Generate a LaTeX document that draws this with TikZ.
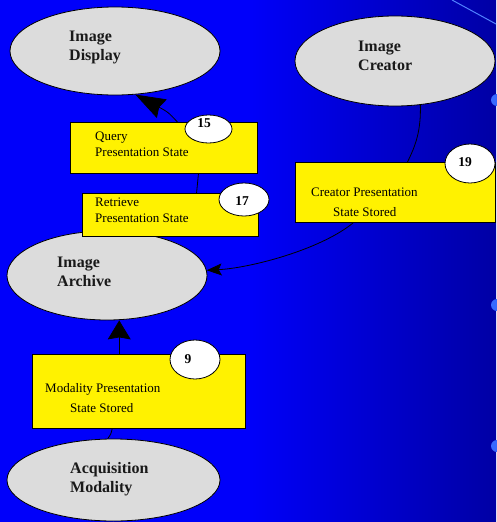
\documentclass[tikz,border=0pt]{standalone}
\usepackage{fontspec}
\setmainfont{Liberation Serif}
\usetikzlibrary{shapes.geometric,arrows.meta,calc}
\definecolor{bgA}{RGB}{0,0,250}
\definecolor{bgB}{RGB}{0,0,165}
\definecolor{ellgray}{RGB}{220,220,220}
\definecolor{dotblue}{RGB}{55,105,255}
\definecolor{lineblue}{RGB}{80,130,255}
\tikzset{
 ell/.style={ellipse, draw=black, line width=0.8pt, fill=ellgray, inner sep=0pt},
 ybox/.style={rectangle, draw=black, line width=0.8pt, fill=yellow, inner sep=0pt, anchor=north west},
 badge/.style={ellipse, draw=black, line width=0.8pt, fill=white, inner sep=0pt},
 etxt/.style={anchor=base west, font=\fontsize{16}{19}\selectfont\bfseries, inner sep=0pt, text=black!90},
 btxt/.style={anchor=base west, font=\fontsize{13}{16}\selectfont, inner sep=0pt},
 ntxt/.style={font=\fontsize{13.5}{15}\selectfont\bfseries, inner sep=0pt},
 conn/.style={draw=black, line width=0.8pt},
}
\begin{document}
\begin{tikzpicture}[x=1pt,y=-1pt]
\useasboundingbox (0,0) rectangle (496,522);
\fill[left color=bgA, right color=bgB, middle color=bgA] (0,0) rectangle (496,522);
\draw[lineblue, line width=1pt] (452,0) -- (496,24);
\foreach \yy in {100,305,446} \fill[dotblue] (497,\yy) circle (6);

% ellipses
\node[ell, minimum width=210, minimum height=88] (disp) at (115,51) {};
\node[ell, minimum width=200, minimum height=90] (crea) at (395,61) {};
\node[ell, minimum width=200, minimum height=89] (arch) at (107,275.5) {};
\node[ell, minimum width=213, minimum height=82] (acq) at (113.5,480) {};

\node[etxt] (disp1) at (69,41) {Image};
\node[etxt] (disp2) at (69,60) {Display};
\node[etxt] (crea1) at (358,51) {Image};
\node[etxt] (crea2) at (358,70) {Creator};
\node[etxt] (arch1) at (57,267.5) {Image};
\node[etxt] (arch2) at (57,286) {Archive};
\node[etxt] (acq1) at (70,473) {Acquisition};
\node[etxt] (acq2) at (70,492) {Modality};

% boxes
\node[ybox, minimum width=187, minimum height=51] (qb) at (70,122) {};
\node[ybox, minimum width=176, minimum height=43] (rb) at (82,193) {};
\node[ybox, minimum width=200, minimum height=60] (cb) at (295,162) {};
\node[ybox, minimum width=213, minimum height=74] (mb) at (32,354) {};

\node[btxt] (qt1) at (95,140) {Query};
\node[btxt] (qt2) at (95,156) {Presentation State};
\node[btxt] (rt1) at (95,206) {Retrieve};
\node[btxt] (rt2) at (95,222) {Presentation State};
\node[btxt] (ct1) at (311,196) {Creator Presentation};
\node[btxt] (ct2) at (333,216) {State Stored};
\node[btxt] (mt1) at (45,392) {Modality Presentation};
\node[btxt] (mt2) at (70,412) {State Stored};

% badges
\node[badge, minimum width=47, minimum height=28] (b15) at (208.5,129) {};
\node[badge, minimum width=50, minimum height=33] (b17) at (244,199.5) {};
\node[badge, minimum width=50, minimum height=39] (b19) at (470,163.5) {};
\node[badge, minimum width=50, minimum height=39] (b9) at (195,359.5) {};
\node[ntxt] (n15) at (204,123) {15};
\node[ntxt] (n17) at (242,201.5) {17};
\node[ntxt] (n19) at (465,162.5) {19};
\node[ntxt] (n9) at (188,359) {9};

% connectors
\coordinate (q1) at ($(qb.north west)!0.572!(qb.north east)$);
\coordinate (q2) at ($(qb.south west)!0.684!(qb.south east)$);
\coordinate (r1) at ($(rb.north west)!0.648!(rb.north east)$);
\coordinate (c1) at ($(cb.north west)!0.56!(cb.north east)$);
\coordinate (c2) at ($(cb.south west)!0.29!(cb.south east)$);
\coordinate (m1) at ($(mb.north west)!0.408!(mb.north east)$);
\coordinate (m2) at ($(mb.south west)!0.375!(mb.south east)$);

\draw[conn, -{Stealth[length=30pt,width=21pt,inset=3pt]}] (q1) .. controls (168,112) .. (disp.-65);
\draw[conn] (q2) -- (r1);
\draw[conn] (crea.-60) .. controls (421,130) and (416,145) .. (c1);
\draw[conn, -{Stealth[length=15pt,width=12pt,inset=3pt]}] (c2) .. controls (320,250) and (250,268) .. (arch.3);
\draw[conn, -{Stealth[length=19pt,width=23pt,inset=2pt]}] (m1) -- (m1 |- arch.south);
\draw[conn] (acq.98) .. controls (111,434) .. (m2);
\end{tikzpicture}
\end{document}
